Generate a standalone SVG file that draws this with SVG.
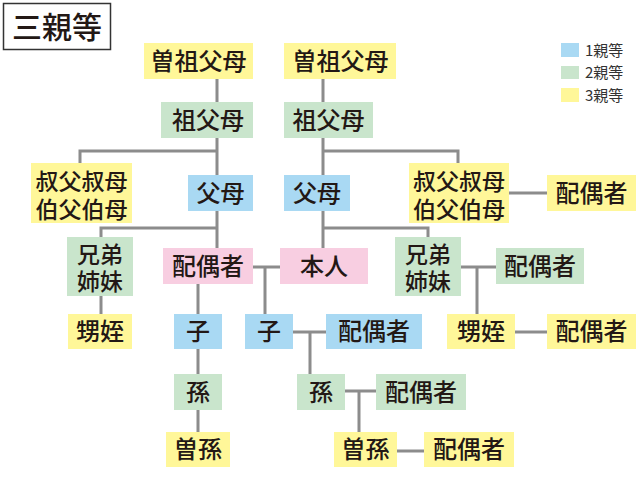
<svg xmlns="http://www.w3.org/2000/svg" width="640" height="480" viewBox="0 0 640 480">
<style>
  text { font-family: "Noto Sans CJK JP", "Noto Sans", sans-serif; fill: #231815; }
  .t { font-size: 24px; font-weight: 500; text-anchor: middle; }
  .t2 { font-size: 23px; font-weight: 500; text-anchor: middle; }
  .lg { font-size: 15px; fill: #333; }
  .y { fill: #FFF799; }
  .g { fill: #C9E5CC; }
  .b { fill: #A9D9F3; }
  .p { fill: #F8CEE1; }
  #connectors path { fill: none; stroke: #8C8C8C; stroke-width: 3; }
</style>
<rect width="640" height="480" fill="#ffffff"/>
<g id="title">
  <rect x="3.5" y="3.5" width="107" height="46" fill="#ffffff" stroke="#333" stroke-width="1.5"/>
  <text x="57" y="38" style="font-size:30px;font-weight:500;text-anchor:middle">三親等</text>
</g>
<g id="legend">
  <rect class="b" x="561" y="43" width="18" height="14"/>
  <text class="lg" x="585" y="55.5">1親等</text>
  <rect class="g" x="561" y="66" width="18" height="13"/>
  <text class="lg" x="585" y="78">2親等</text>
  <rect class="y" x="561" y="88" width="18" height="14"/>
  <text class="lg" x="585" y="100.5">3親等</text>
</g>
<g id="connectors">
  <path d="M217 79V102M217 138V175M217 211V248"/>
  <path d="M217 151H80V163"/>
  <path d="M217 228H101V237"/>
  <path d="M101 296V314"/>
  <path d="M323 79V102M323 138V175M323 211V248"/>
  <path d="M323 151H458V163"/>
  <path d="M323 228H428V237"/>
  <path d="M509 193H547"/>
  <path d="M461 267H496M477 267V314"/>
  <path d="M515 332H547"/>
  <path d="M253 267H280M265 267V314"/>
  <path d="M198 284V314M198 349V374M198 410V432"/>
  <path d="M293 332H326M310 332V374"/>
  <path d="M345 391H376M359 391V432"/>
  <path d="M397 451H424"/>
</g>
<g id="n-sousofubo-l"><rect class="y" x="144" y="43" width="109" height="36"/><text class="t" x="198.5" y="70">曽祖父母</text></g>
<g id="n-sousofubo-r"><rect class="y" x="284" y="43" width="112" height="36"/><text class="t" x="340.5" y="70">曽祖父母</text></g>
<g id="n-sofubo-l"><rect class="g" x="161" y="102" width="92" height="36"/><text class="t" x="208" y="129">祖父母</text></g>
<g id="n-sofubo-r"><rect class="g" x="284" y="102" width="89" height="36"/><text class="t" x="328.5" y="129">祖父母</text></g>
<g id="n-oji-l"><rect class="y" x="31" y="163" width="101" height="60"/><text class="t2" x="81.5" y="190">叔父叔母</text><text class="t2" x="81.5" y="218">伯父伯母</text></g>
<g id="n-fubo-l"><rect class="b" x="188" y="175" width="65" height="36"/><text class="t" x="220.5" y="202">父母</text></g>
<g id="n-fubo-r"><rect class="b" x="284" y="175" width="66" height="36"/><text class="t" x="317" y="202">父母</text></g>
<g id="n-oji-r"><rect class="y" x="409" y="163" width="100" height="60"/><text class="t2" x="459" y="190">叔父叔母</text><text class="t2" x="459" y="218">伯父伯母</text></g>
<g id="n-oji-spouse"><rect class="y" x="547" y="175" width="89" height="36"/><text class="t" x="591.5" y="202">配偶者</text></g>
<g id="n-kyodai-l"><rect class="g" x="67" y="237" width="66" height="59"/><text class="t2" x="100" y="262.5">兄弟</text><text class="t2" x="100" y="289.5">姉妹</text></g>
<g id="n-haiguusha"><rect class="p" x="163" y="248" width="90" height="36"/><text class="t" x="208" y="275">配偶者</text></g>
<g id="n-honnin"><rect class="p" x="280" y="248" width="88" height="36"/><text class="t" x="324" y="275">本人</text></g>
<g id="n-kyodai-r"><rect class="g" x="395" y="237" width="66" height="59"/><text class="t2" x="428" y="262.5">兄弟</text><text class="t2" x="428" y="289.5">姉妹</text></g>
<g id="n-kyodai-spouse"><rect class="g" x="496" y="248" width="88" height="36"/><text class="t" x="540" y="275">配偶者</text></g>
<g id="n-oimei-l"><rect class="y" x="68" y="314" width="64" height="35"/><text class="t" x="100" y="340">甥姪</text></g>
<g id="n-ko-l"><rect class="b" x="174" y="314" width="48" height="35"/><text class="t" x="198" y="340">子</text></g>
<g id="n-ko-r"><rect class="b" x="245" y="314" width="48" height="35"/><text class="t" x="269" y="340">子</text></g>
<g id="n-ko-spouse"><rect class="b" x="326" y="314" width="96" height="35"/><text class="t" x="374" y="340">配偶者</text></g>
<g id="n-oimei-r"><rect class="y" x="447" y="314" width="68" height="35"/><text class="t" x="481" y="340">甥姪</text></g>
<g id="n-oimei-spouse"><rect class="y" x="547" y="314" width="89" height="35"/><text class="t" x="591.5" y="340">配偶者</text></g>
<g id="n-mago-l"><rect class="g" x="174" y="374" width="48" height="36"/><text class="t" x="198" y="401">孫</text></g>
<g id="n-mago-r"><rect class="g" x="297" y="374" width="48" height="36"/><text class="t" x="321" y="401">孫</text></g>
<g id="n-mago-spouse"><rect class="g" x="376" y="374" width="90" height="36"/><text class="t" x="421" y="401">配偶者</text></g>
<g id="n-himago-l"><rect class="y" x="166" y="432" width="64" height="35"/><text class="t" x="198" y="458">曽孫</text></g>
<g id="n-himago-r"><rect class="y" x="334" y="432" width="63" height="35"/><text class="t" x="365.5" y="458">曽孫</text></g>
<g id="n-himago-spouse"><rect class="y" x="424" y="432" width="90" height="35"/><text class="t" x="469" y="458">配偶者</text></g>
</svg>
